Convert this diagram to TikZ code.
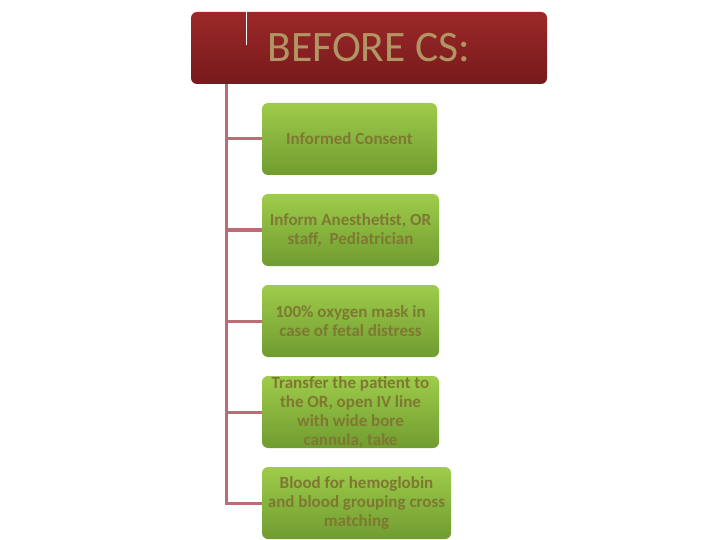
\documentclass[tikz,border=0pt]{standalone}
\usepackage{fontspec}
\setmainfont{Carlito}
\definecolor{titletop}{RGB}{156, 40, 40}
\definecolor{titlebot}{RGB}{118, 26, 28}
\definecolor{titletext}{RGB}{176, 150, 100}
\definecolor{boxtop}{RGB}{158, 204, 74}
\definecolor{boxbot}{RGB}{112, 156, 48}
\definecolor{boxtext}{RGB}{126, 120, 50}
\definecolor{branchpink}{RGB}{188, 108, 116}
\usetikzlibrary{positioning, calc}

\tikzset{
  titlebox/.style={rounded corners=6pt, top color=titletop, bottom color=titlebot,
    minimum width=356, minimum height=72, inner sep=0pt,
    font=\fontsize{43.5}{48}\selectfont, text=titletext},
  stepbox/.style={rounded corners=6pt, top color=boxtop, bottom color=boxbot,
    minimum height=72, inner sep=0pt, align=center,
    font=\fontsize{17}{18.8}\selectfont\bfseries, text=boxtext},
  branch/.style={draw=branchpink, line width=3pt}
}

\begin{document}
\begin{tikzpicture}[x=1pt, y=-1pt]
  \useasboundingbox (0,0) rectangle (720,540);

  % Title
  \node[titlebox] (title) at (369,48) {BEFORE CS:};
  \draw[white, line width=1.2pt] (246.5,12) -- (246.5,45);

  % Steps
  \node[stepbox, minimum width=175] (consent) at (349.5,139) {Informed Consent};
  \node[stepbox, minimum width=177] (inform) at (350.5,230) {Inform Anesthetist, OR\\staff,\ \ Pediatrician};
  \node[stepbox, minimum width=177] (oxygen) at (350.5,321) {100\% oxygen mask in\\case of fetal distress};
  \node[stepbox, minimum width=177] (transfer) at (350.5,412) {Transfer the patient to\\the OR, open IV line\\with wide bore\\cannula, take};
  \node[stepbox, minimum width=189] (blood) at (356.5,503) {Blood for hemoglobin\\and blood grouping cross\\matching};

  % Branch lines
  \coordinate (trunk) at ($(title.south west)+(36,0)$);
  \draw[branch] (trunk) |- (blood.west);
  \foreach \s in {consent, inform, oxygen, transfer}
    \draw[branch] (trunk |- \s.west) -- (\s.west);
\end{tikzpicture}
\end{document}
